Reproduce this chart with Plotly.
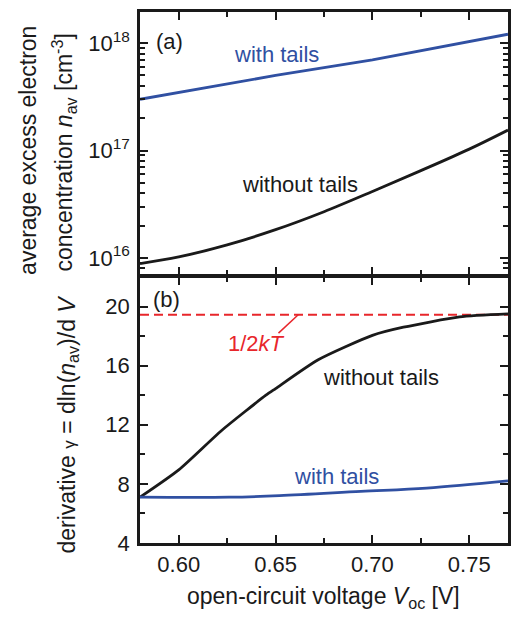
import plotly.graph_objects as go

# ---------------- data ----------------
v_top_with = [0.58, 0.65, 0.70, 0.75, 0.77]
n_with = [3.0e17, 5.0e17, 7.0e17, 1.04e18, 1.21e18]

v_top_without = [0.58, 0.60, 0.625, 0.65, 0.675, 0.70, 0.725, 0.75, 0.77]
n_without = [8.85e15, 1.02e16, 1.32e16, 1.83e16, 2.69e16, 4.15e16, 6.49e16, 1.03e17, 1.55e17]

v_bot_without = [0.58, 0.60, 0.622, 0.645, 0.65, 0.672, 0.70, 0.716, 0.745, 0.77]
g_without = [7.1, 8.95, 11.6, 14.0, 14.45, 16.4, 18.05, 18.6, 19.3, 19.5]

v_bot_with = [0.58, 0.626, 0.652, 0.694, 0.728, 0.77]
g_with = [7.1, 7.1, 7.2, 7.49, 7.72, 8.21]

kT_level = 19.45
x_range = [0.58, 0.77]

log_tickvals = [1e16, 1e17, 1e18]
log_ticktext = ["10<sup>16</sup>", "10<sup>17</sup>", "10<sup>18</sup>"]

BLUE = "#3050a2"
RED = "#e8262b"
BLACK = "#1a1a1a"
FONT = "Liberation Sans, Arial, sans-serif"

# ---------------- layout geometry (pixels) ----------------
W, H = 512, 619
L, R, T, B = 140, 1, 12, 76
PW, PH = W - L - R, H - T - B
LW = 2.5
split = (543 - 276) / PH


def px(x):
    return (x - L) / PW


def py(y):
    return (H - B - y) / PH


fig = go.Figure()

fig.add_trace(go.Scatter(x=v_top_with, y=n_with, xaxis="x2", yaxis="y2", mode="lines",
                         line=dict(color=BLUE, width=2.8), showlegend=False))
fig.add_trace(go.Scatter(x=v_top_without, y=n_without, xaxis="x2", yaxis="y2", mode="lines",
                         line=dict(color=BLACK, width=2.8, shape="spline"), showlegend=False))
fig.add_trace(go.Scatter(x=x_range, y=[kT_level, kT_level], xaxis="x", yaxis="y", mode="lines",
                         line=dict(color=RED, width=2, dash="9px,5px"), showlegend=False))
fig.add_trace(go.Scatter(x=v_bot_without, y=g_without, xaxis="x", yaxis="y", mode="lines",
                         line=dict(color=BLACK, width=2.8, shape="spline", smoothing=0.6), showlegend=False))
fig.add_trace(go.Scatter(x=v_bot_with, y=g_with, xaxis="x", yaxis="y", mode="lines",
                         line=dict(color=BLUE, width=2.8, shape="spline"), showlegend=False))

axis_common = dict(showline=True, linecolor=BLACK, linewidth=LW, mirror="allticks",
                   ticks="inside", tickcolor=BLACK, tickwidth=2, ticklen=8,
                   showgrid=False, zeroline=False,
                   tickfont=dict(family=FONT, size=22, color=BLACK))

fig.update_layout(
    width=W, height=H,
    margin=dict(l=L, r=R, t=T, b=B),
    paper_bgcolor="white", plot_bgcolor="white",
    font=dict(family=FONT, size=22, color=BLACK),
    xaxis=dict(anchor="y", domain=[0, 1], range=x_range, dtick=0.05, tick0=0.6,
               tickformat=".2f", ticklabelstandoff=0,
               minor=dict(ticks="inside", dtick=0.025, tick0=0.6, ticklen=5, tickwidth=2,
                          tickcolor=BLACK, showgrid=False),
               **axis_common),
    xaxis2=dict(anchor="y2", domain=[0, 1], range=x_range, dtick=0.05, tick0=0.6,
                matches="x", showticklabels=False,
                minor=dict(ticks="inside", dtick=0.025, tick0=0.6, ticklen=5, tickwidth=2,
                           tickcolor=BLACK, showgrid=False),
                **axis_common),
    yaxis=dict(anchor="x", domain=[0, split - 1.0 / PH], range=[4, 22], dtick=4, tick0=4,
               ticklabelstandoff=3,
               minor=dict(ticks="inside", dtick=2, tick0=4, ticklen=5, tickwidth=2,
                          tickcolor=BLACK, showgrid=False),
               **axis_common),
    yaxis2=dict(anchor="x2", domain=[split + 1.5 / PH, 1], type="log", range=[15.845, 18.29],
                tickvals=log_tickvals, ticktext=log_ticktext, ticklabelstandoff=3,
                minor=dict(ticks="inside", dtick="D1", ticklen=5, tickwidth=2,
                           tickcolor=BLACK, showgrid=False),
                **axis_common),
)

ann = []


def add(text, x, y, size=22, color=BLACK, angle=0):
    ann.append(dict(text=text, x=px(x), y=py(y), xref="paper", yref="paper",
                    showarrow=False, textangle=angle, xanchor="center", yanchor="middle",
                    font=dict(family=FONT, size=size, color=color)))


add("(a)", 170, 41)
add("(b)", 167, 299)
add("with tails", 277.5, 55, color=BLUE)
add("without tails", 301, 185)
add("without tails", 383, 377)
add("with tails", 338, 476, color=BLUE)
add("1/2<i>kT</i>", 257, 343, color=RED)

# axis titles
add("average excess electron", 27, 150, size=23, angle=-90)
add("concentration <i>n</i><sub>av</sub> [cm<sup>-3</sup>]", 63, 153, size=23, angle=-90)
add("derivative <span style='font-size:17px'>γ</span> = dln(<i>n</i><sub>av</sub>)/d <i>V</i>",
    67, 424, size=23, angle=-90)
add("open-circuit voltage <i>V</i><sub>oc</sub> [V]", 325, 597, size=23)

fig.update_layout(annotations=ann)

# leader line for 1/2kT
fig.add_shape(type="line", xref="x", yref="y", x0=0.6515, y0=18.2, x1=0.6617, y1=19.45,
              line=dict(color=RED, width=1.5))

fig.write_html("out.html")
